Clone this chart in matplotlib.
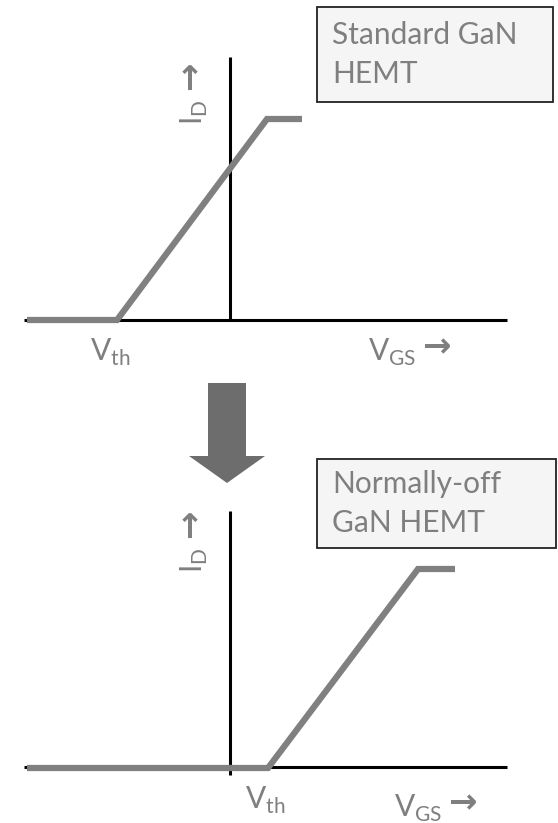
import matplotlib.pyplot as plt
from matplotlib.patches import FancyArrow, Rectangle

W, H = 558, 823

# transfer curves (pixel coords of the drawing)
std_x = [27, 117, 267, 302]
std_y = [320, 320, 119, 119]
noff_x = [27, 268, 418, 455]
noff_y = [768, 768, 569, 569]

box_labels = ["Standard GaN\nHEMT", "Normally-off\nGaN HEMT"]

gray = "#808080"
txt = "#7f7f7f"
FS = 21.5
plt.rcParams["font.family"] = ["Lato", "DejaVu Sans"]

fig = plt.figure(figsize=(W / 100, H / 100), dpi=100)
ax = fig.add_axes([0, 0, 1, 1])
ax.set_xlim(0, W)
ax.set_ylim(H, 0)
ax.axis("off")


def panel(cx, cy, x0, x1, ytop, ybot, xs, ys, label, box, vth_xy, vgs_xy, id_xy):
    ax.plot([x0, x1], [cy, cy], color="black", lw=2.2, solid_capstyle="butt")
    ax.plot([cx, cx], [ytop, ybot], color="black", lw=2.2, solid_capstyle="butt")
    ax.plot(xs, ys, color=gray, lw=4.5, solid_capstyle="butt", solid_joinstyle="miter")
    bx, by, bw, bh = box
    ax.add_patch(Rectangle((bx, by), bw, bh, facecolor="#f5f5f5", edgecolor="#222222", lw=1.3))
    ax.text(bx + 15, by + bh / 2, label, color=txt, fontsize=FS, va="center", ha="left",
            linespacing=1.45)
    ax.text(vth_xy[0], vth_xy[1], "V$_{\\mathregular{th}}$", color=txt, fontsize=FS,
            ha="center", va="center")
    ax.text(vgs_xy[0], vgs_xy[1], "V$_{\\mathregular{GS}}$", color=txt, fontsize=FS,
            ha="center", va="center")
    ax.text(vgs_xy[0] + 44, vgs_xy[1] - 4, "\u2192", color=txt, fontsize=FS + 3,
            family="DejaVu Sans", weight="bold", ha="center", va="center")
    ax.text(id_xy[0], id_xy[1] + 12, "I$_{\\mathregular{D}}$", color=txt, fontsize=FS,
            ha="center", va="center", rotation=90)
    ax.text(id_xy[0] - 3, id_xy[1] - 24, "\u2192", color=txt, fontsize=FS + 3,
            family="DejaVu Sans", weight="bold", ha="center", va="center", rotation=90)


panel(230, 320, 24, 507, 57, 320, std_x, std_y, box_labels[0],
      (317, 7, 236, 95), (110, 352), (392, 352), (194, 100))
panel(230, 767, 24, 507, 511, 775, noff_x, noff_y, box_labels[1],
      (317, 459, 239, 89), (265, 800), (418, 808), (194, 548))

ax.add_patch(FancyArrow(227, 383, 0, 100, width=38, head_width=76, head_length=27,
                        length_includes_head=True, color="#6d6d6d", lw=0))

fig.savefig("out.png", dpi=100)
